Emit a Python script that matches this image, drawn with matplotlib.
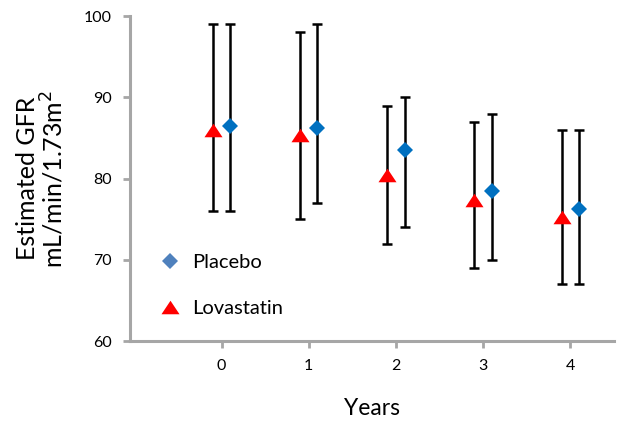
import numpy as np
import matplotlib.pyplot as plt
from matplotlib.lines import Line2D

plt.rcParams['font.family'] = ['Lato', 'DejaVu Sans']

# Data
years = np.array([0, 1, 2, 3, 4])
placebo_mean = [86.5, 86.2, 83.5, 78.5, 76.2]
placebo_hi = [99, 99, 90, 88, 86]
placebo_lo = [76, 77, 74, 70, 67]
lova_mean = [86.0, 85.4, 80.5, 77.4, 75.3]
lova_hi = [99, 98, 89, 87, 86]
lova_lo = [76, 75, 72, 69, 67]

offset = 0.1
blue = '#0070C0'
red = '#FF0000'
gray = '#A6A6A6'
tri = [(-1, -0.75), (1, -0.75), (0, 0.75)]

fig = plt.figure(figsize=(6.22, 4.26), dpi=100)
ax = fig.add_axes([0.209, 0.1995, 0.778, 0.7625])

for x, m, lo, hi, color, mk, ms in [
    (years + offset, placebo_mean, placebo_lo, placebo_hi, blue, 'D', 8.5),
    (years - offset, lova_mean, lova_lo, lova_hi, red, tri, 13),
]:
    m = np.array(m)
    yerr = [m - np.array(lo), np.array(hi) - m]
    ax.errorbar(x, m, yerr=yerr, fmt='none', ecolor='black', elinewidth=1.8,
                capsize=3.3, capthick=1.8, zorder=2)
    ax.plot(x, m, linestyle='none', marker=mk, markersize=ms, color=color,
            markeredgewidth=0, zorder=3)

handles = [
    Line2D([], [], linestyle='none', marker='D', markersize=8.5, color='#4F81BD', markeredgewidth=0),
    Line2D([], [], linestyle='none', marker=tri, markersize=13, color=red, markeredgewidth=0),
]
ax.legend(handles, ['Placebo', 'Lovastatin'], loc='upper left', bbox_to_anchor=(0.065, 0.268),
          frameon=False, fontsize=14.5, borderpad=0, borderaxespad=0, handlelength=0.8,
          handletextpad=0.7, labelspacing=1.45)

ax.set_xlim(-1.05, 4.5)
ax.set_ylim(60, 100)
ax.set_xticks(years)
ax.set_yticks([60, 70, 80, 90, 100])
for s in ['top', 'right']:
    ax.spines[s].set_visible(False)
for s in ['left', 'bottom']:
    ax.spines[s].set_color(gray)
    ax.spines[s].set_linewidth(2.2)
ax.tick_params(colors=gray, width=2, length=5, labelsize=11.5, labelcolor='black', pad=8)

ax.set_xlabel('Years', fontsize=16.5, labelpad=18)
ax.set_ylabel('Estimated GFR\nmL/min/1.73m$^2$', fontsize=18, labelpad=12, linespacing=1.05)

fig.savefig('out.png', dpi=100)
